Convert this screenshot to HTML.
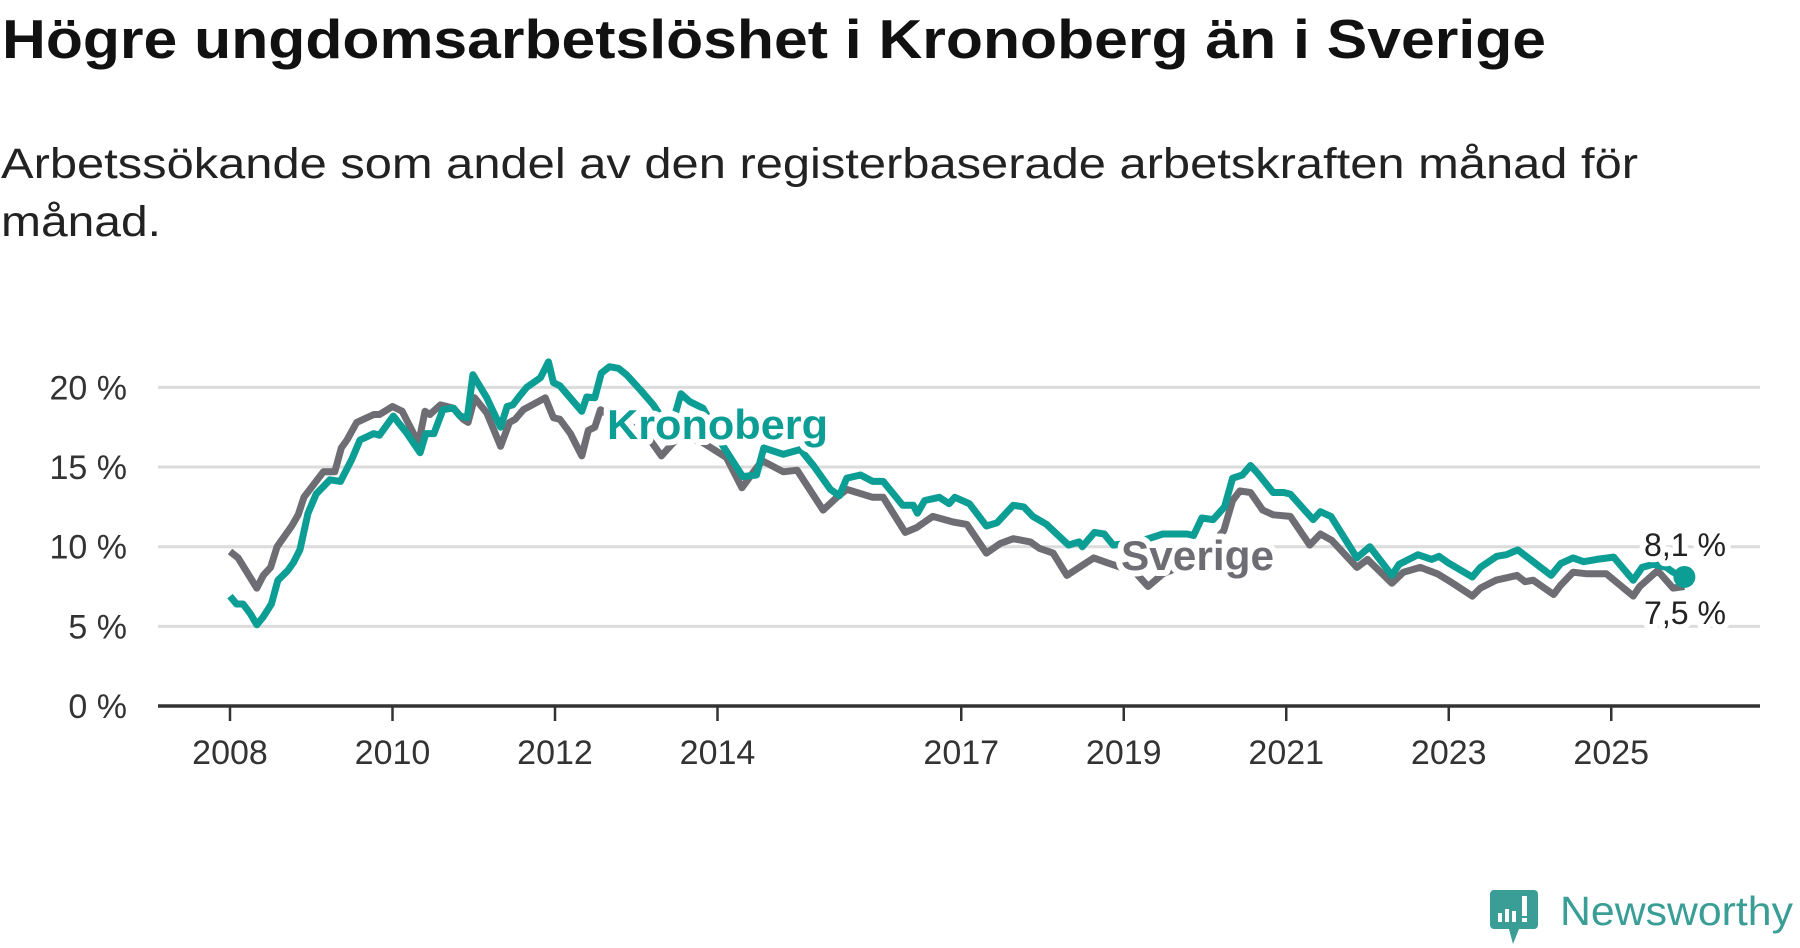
<!DOCTYPE html>
<html><head><meta charset="utf-8">
<style>
html,body{margin:0;padding:0;background:#fff;}
svg{display:block;font-family:"Liberation Sans",sans-serif;}
</style></head>
<body>
<svg id="chart" width="1800" height="948" viewBox="0 0 1800 948">
  <text x="2" y="58" font-size="55" font-weight="bold" fill="#111" textLength="1544" lengthAdjust="spacingAndGlyphs">Högre ungdomsarbetslöshet i Kronoberg än i Sverige</text>
  <text x="1" y="178" font-size="43" fill="#222" textLength="1637" lengthAdjust="spacingAndGlyphs">Arbetssökande som andel av den registerbaserade arbetskraften månad för</text>
  <text x="1" y="236" font-size="43" fill="#222" textLength="160" lengthAdjust="spacingAndGlyphs">månad.</text>
  <g id="grid"></g>
  <g id="yaxis"></g>
  <g id="xaxis"></g>
  <g id="series"></g>
  <g id="labels"></g>
  <g>
    <path d="M1494 890 h40 a4 4 0 0 1 4 4 v31 a4 4 0 0 1 -4 4 h-15 l-6 15 l-4 -15 h-15 a4 4 0 0 1 -4 -4 v-31 a4 4 0 0 1 4 -4z" fill="#3a9e96"/>
    <rect x="1498" y="913" width="4" height="9" fill="#fff"/>
    <rect x="1505" y="909" width="4" height="13" fill="#fff"/>
    <rect x="1512" y="911" width="4" height="11" fill="#fff"/>
    <rect x="1522" y="896" width="5" height="20" fill="#fff"/>
    <rect x="1522" y="918" width="5" height="4" fill="#fff"/>
    <text x="1560" y="925" font-size="41" fill="#3a9e96" textLength="233" lengthAdjust="spacingAndGlyphs">Newsworthy</text>
  </g>
</svg>
<script>
const yTicks = [0, 5, 10, 15, 20];
const yTickLabels = ["0 %", "5 %", "10 %", "15 %", "20 %"];
const xTicks = [2008, 2010, 2012, 2014, 2017, 2019, 2021, 2023, 2025];
const xTickLabels = ["2008", "2010", "2012", "2014", "2017", "2019", "2021", "2023", "2025"];

const kronDates = [2008.00,2008.08,2008.16,2008.25,2008.33,2008.41,2008.51,2008.59,2008.71,2008.78,2008.86,2008.96,2009.06,2009.23,2009.36,2009.50,2009.60,2009.77,2009.84,2010.01,2010.18,2010.34,2010.41,2010.51,2010.62,2010.75,2010.83,2010.92,2010.99,2011.16,2011.33,2011.41,2011.48,2011.57,2011.65,2011.82,2011.92,2011.98,2012.06,2012.33,2012.39,2012.49,2012.57,2012.67,2012.78,2012.88,2013.05,2013.21,2013.38,2013.45,2013.55,2013.66,2013.82,2013.94,2014.07,2014.31,2014.48,2014.57,2014.81,2015.02,2015.18,2015.39,2015.50,2015.59,2015.76,2015.91,2016.04,2016.28,2016.41,2016.46,2016.55,2016.73,2016.85,2016.92,2017.10,2017.31,2017.44,2017.64,2017.77,2017.88,2018.05,2018.32,2018.45,2018.49,2018.64,2018.76,2018.87,2019.18,2019.48,2019.78,2019.86,2019.96,2020.10,2020.24,2020.34,2020.46,2020.56,2020.65,2020.84,2020.97,2021.05,2021.33,2021.42,2021.55,2021.87,2022.03,2022.30,2022.39,2022.62,2022.79,2022.88,2022.99,2023.29,2023.39,2023.59,2023.71,2023.85,2024.04,2024.26,2024.38,2024.53,2024.66,2024.82,2025.03,2025.27,2025.38,2025.52,2025.68,2025.76,2025.90];
const kronValues = [6.9,6.4,6.4,5.8,5.1,5.6,6.4,7.9,8.5,9.0,9.8,12.1,13.3,14.2,14.1,15.5,16.7,17.1,17.0,18.2,17.1,15.9,17.1,17.1,18.6,18.7,18.2,18.1,20.8,19.35,17.5,18.8,18.9,19.5,20.0,20.6,21.6,20.3,20.1,18.5,19.4,19.35,20.9,21.3,21.2,20.8,19.85,18.9,17.6,17.8,19.6,19.1,18.7,17.6,16.3,14.4,14.5,16.2,15.8,16.1,15.1,13.6,13.2,14.3,14.5,14.1,14.1,12.6,12.6,12.1,12.9,13.1,12.7,13.1,12.7,11.3,11.5,12.6,12.5,11.9,11.4,10.1,10.3,10.0,10.9,10.8,10.1,10.3,10.8,10.8,10.7,11.8,11.7,12.5,14.3,14.5,15.1,14.6,13.4,13.4,13.3,11.7,12.2,11.9,9.3,10.0,8.2,8.9,9.5,9.2,9.4,9.0,8.1,8.7,9.4,9.5,9.8,9.06,8.2,8.95,9.3,9.06,9.2,9.35,7.9,8.7,8.9,8.7,8.4,8.1];

const sveDates = [2008.00,2008.10,2008.33,2008.41,2008.50,2008.58,2008.76,2008.84,2008.91,2009.15,2009.29,2009.37,2009.44,2009.56,2009.77,2009.84,2010.00,2010.12,2010.32,2010.40,2010.46,2010.59,2010.75,2010.87,2010.93,2011.01,2011.16,2011.33,2011.44,2011.51,2011.61,2011.88,2011.98,2012.06,2012.19,2012.33,2012.41,2012.49,2012.56,2012.81,2013.10,2013.31,2013.52,2013.80,2014.11,2014.30,2014.43,2014.55,2014.81,2014.98,2015.30,2015.47,2015.59,2015.91,2016.04,2016.31,2016.45,2016.65,2016.90,2017.07,2017.31,2017.48,2017.64,2017.85,2017.96,2018.13,2018.30,2018.45,2018.63,2018.79,2019.14,2019.30,2019.48,2019.82,2020.03,2020.14,2020.23,2020.34,2020.43,2020.56,2020.71,2020.84,2021.05,2021.29,2021.42,2021.56,2021.87,2022.00,2022.30,2022.44,2022.65,2022.86,2023.02,2023.29,2023.39,2023.58,2023.84,2023.94,2024.04,2024.29,2024.38,2024.53,2024.70,2024.94,2025.27,2025.35,2025.57,2025.76,2025.90];
const sveValues = [9.7,9.3,7.4,8.2,8.7,10.0,11.3,12.0,13.1,14.7,14.7,16.2,16.7,17.8,18.3,18.3,18.8,18.5,16.5,18.5,18.3,18.9,18.7,18.0,17.8,19.35,18.4,16.3,17.8,18.0,18.6,19.35,18.1,18.0,17.1,15.7,17.3,17.5,18.6,17.8,17.2,15.7,16.9,16.6,15.6,13.7,14.6,15.4,14.7,14.8,12.3,13.1,13.6,13.1,13.1,10.9,11.2,11.9,11.55,11.4,9.6,10.2,10.5,10.3,9.9,9.6,8.2,8.7,9.3,9.0,8.4,7.5,8.3,9.0,9.6,10.5,11.0,12.9,13.5,13.4,12.3,12.0,11.9,10.1,10.8,10.4,8.7,9.2,7.7,8.4,8.7,8.3,7.8,6.9,7.4,7.9,8.2,7.8,7.9,7.0,7.6,8.4,8.3,8.3,6.9,7.5,8.5,7.4,7.5];

const NS = "http://www.w3.org/2000/svg";
const X0 = 158, X1 = 1760, AXIS_Y = 706;
function xPos(t){ return 230 + (t - 2008) * 81.25; }
function yPos(v){ return AXIS_Y - v * 15.93; }
function mk(tag, attrs, parent){
  const el = document.createElementNS(NS, tag);
  for (const k in attrs) el.setAttribute(k, attrs[k]);
  parent.appendChild(el);
  return el;
}
const grid = document.getElementById("grid");
const yaxis = document.getElementById("yaxis");
const xaxis = document.getElementById("xaxis");
const series = document.getElementById("series");
const labels = document.getElementById("labels");

yTicks.forEach((v, i) => {
  if (v > 0) {
    const g = mk("line", {x1:X0, x2:X1, y1:yPos(v), y2:yPos(v), stroke:"#dcdcdc", "stroke-width":3}, grid);
    
    
  }
  const t = mk("text", {x:127, y:yPos(v)+12, "text-anchor":"end", "font-size":34, fill:"#333"}, yaxis);
  t.textContent = yTickLabels[i];
  
  
});

const ax = mk("line", {x1:X0, x2:X1, y1:AXIS_Y, y2:AXIS_Y, stroke:"#333", "stroke-width":3.5}, xaxis);


xTicks.forEach((yr, i) => {
  const x = xPos(yr);
  const tk = mk("line", {x1:x, x2:x, y1:AXIS_Y, y2:AXIS_Y+15, stroke:"#333", "stroke-width":2.5}, xaxis);
  
  
  const t = mk("text", {x:x, y:764, "text-anchor":"middle", "font-size":34, fill:"#333"}, xaxis);
  t.textContent = xTickLabels[i];
  
  
});

function linePath(dates, vals){
  return dates.map((d, i) => (i ? "L" : "M") + xPos(d).toFixed(1) + " " + yPos(vals[i]).toFixed(1)).join(" ");
}
const sLine = mk("path", {d:linePath(sveDates, sveValues), fill:"none", stroke:"#6e6d73", "stroke-width":7, "stroke-linejoin":"round"}, series);


const kLine = mk("path", {d:linePath(kronDates, kronValues), fill:"none", stroke:"#0c9e94", "stroke-width":7, "stroke-linejoin":"round"}, series);


const kl = kronDates.length - 1;
const dot = mk("circle", {cx:xPos(kronDates[kl]), cy:yPos(kronValues[kl]), r:11, fill:"#0c9e94"}, series);



function label(txt, x, y, size, weight, color, len, name){
  const t = mk("text", {x:x, y:y, "font-size":size, "font-weight":weight, fill:color, stroke:"#fff", "stroke-width":12, "paint-order":"stroke", "stroke-linejoin":"round", textLength:len, lengthAdjust:"spacingAndGlyphs"}, labels);
  t.textContent = txt;
  
  
}
label("Kronoberg", 607, 439, 42, "bold", "#0c9e94", 221, "kronoberg-label");
label("Sverige", 1121, 570, 42, "bold", "#6e6d73", 153, "sverige-label");
label("8,1 %", 1644, 556, 32, "normal", "#222", 82, "kronoberg-last-value");
label("7,5 %", 1644, 624, 32, "normal", "#222", 82, "sverige-last-value");
</script>
</body></html>
